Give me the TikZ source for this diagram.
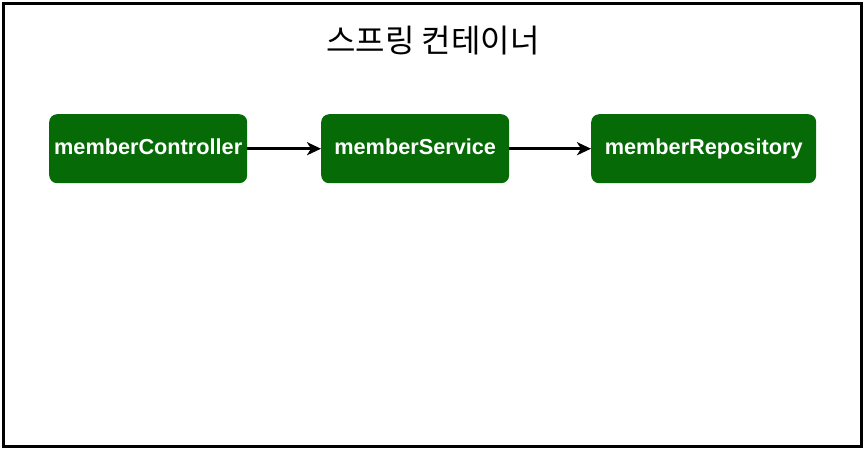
\documentclass[tikz,border=0pt]{standalone}
\usepackage{fontspec}
\setmainfont{Liberation Sans}
\newfontfamily\kofont{Noto Sans CJK KR}
\usetikzlibrary{arrows.meta}
\definecolor{beangreen}{HTML}{066B06}
\tikzset{
  bean/.style={draw=none, fill=beangreen, rounded corners=8pt, text=white,
    font=\fontsize{21.7}{24}\selectfont\bfseries, inner sep=0pt, anchor=north west,
    text height=15.5pt, text depth=4.5pt},
  dep/.style={draw=black, line width=3pt, -{Stealth[length=14pt,width=13pt,inset=4pt]}},
}
\begin{document}
\begin{tikzpicture}[x=1pt,y=-1pt]
\useasboundingbox (0,0) rectangle (867,451);
\draw[line width=3.5pt] (3.5,3.5) rectangle (861.5,446.5);
\node[font=\kofont\fontsize{32}{36}\selectfont] (title) at (433,41) {스프링 컨테이너};
\node[bean, minimum width=198pt, minimum height=69pt] (ctrl) at (49,114) {memberController};
\node[bean, minimum width=188pt, minimum height=69pt] (svc) at (321,114) {memberService};
\node[bean, minimum width=225pt, minimum height=69pt] (repo) at (591,114) {memberRepository};
\draw[dep] (ctrl.east) -- (svc.west);
\draw[dep] (svc.east) -- (repo.west);
\end{tikzpicture}
\end{document}
